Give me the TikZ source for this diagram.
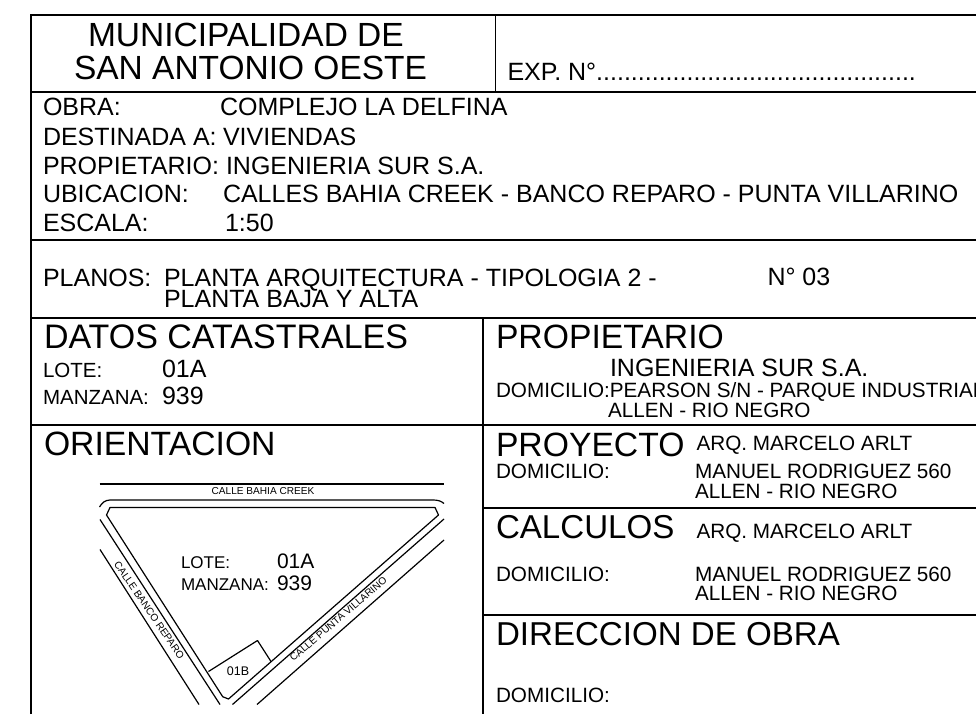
\documentclass[tikz,border=0pt]{standalone}
\usepackage{fontspec}
\setmainfont{Liberation Sans}
\newcommand{\fs}[1]{\fontsize{#1}{#1}\selectfont}
\tikzset{
  frameline/.style={line width=1.4pt,black},
  road/.style={line width=1.2pt,black,line join=round},
  lbl/.style={anchor=base west,inner sep=0pt,outer sep=0pt,black},
  big/.style={lbl,font=\fs{33.5}},
  head/.style={lbl,font=\fs{33.7}},
  headb/.style={lbl,font=\fs{33.1}},
  mid/.style={lbl,font=\fs{25}},
  num/.style={lbl,font=\fs{25}},
  sm/.style={lbl,font=\fs{20.7}},
  xs/.style={lbl,font=\fs{20.5}},
  xt/.style={lbl,font=\fs{17}},
  tiny/.style={anchor=center,inner sep=0pt,outer sep=0pt,black,font=\fs{10.1}}
}
\begin{document}
\begin{tikzpicture}[x=1pt,y=-1pt]
\useasboundingbox (0,0) rectangle (976,714);
% frame
\coordinate (tl) at (31,15); \coordinate (tr) at (976,15); \coordinate (bl) at (31,714);
\coordinate (a1) at (31,92);  \coordinate (a2) at (976,92);
\coordinate (b1) at (31,240); \coordinate (b2) at (976,240);
\coordinate (c1) at (31,318); \coordinate (c2) at (976,318);
\coordinate (d1) at (31,425); \coordinate (d2) at (976,425);
\coordinate (v1) at (495.5,15); \coordinate (v2) at (495.5,92);
\coordinate (w1) at (483,318); \coordinate (w2) at (483,714);
\coordinate (e1) at (483,508); \coordinate (e2) at (976,508);
\coordinate (f1) at (483,615); \coordinate (f2) at (976,615);
\draw[frameline] (bl) -- (tl) -- (tr);
\draw[frameline] (a1) -- (a2);
\draw[frameline] (b1) -- (b2);
\draw[frameline] (c1) -- (c2);
\draw[frameline] (d1) -- (d2);
\draw[frameline] (v1) -- (v2);
\draw[frameline] (w1) -- (w2);
\draw[frameline] (e1) -- (e2);
\draw[frameline] (f1) -- (f2);
% header
\node[big] (t1) at (88,46.7) {MUNICIPALIDAD DE};
\node[big] (t2) at (74,79.5) {SAN ANTONIO OESTE};
\node[mid] (exp) at (507.5,80.5) {EXP. N°..............................................};
% obra
\node[mid] (o1) at (43,116) {OBRA:};
\node[mid] (o2) at (220,116) {COMPLEJO LA DELFINA};
\node[mid] (o3) at (43,146) {DESTINADA A:};
\node[mid] (o4) at (223,146) {VIVIENDAS};
\node[mid] (o5) at (43,175) {PROPIETARIO:};
\node[mid] (o6) at (226,175) {INGENIERIA SUR S.A.};
\node[mid] (o7) at (43,202) {UBICACION:};
\node[mid] (o8) at (223,202) {CALLES BAHIA CREEK - BANCO REPARO - PUNTA VILLARINO};
\node[mid] (o9) at (43,231) {ESCALA:};
\node[mid] (o10) at (225,231) {1:50};
% planos
\node[mid] (p1) at (43,286) {PLANOS:};
\node[mid] (p2) at (164,286) {PLANTA ARQUITECTURA - TIPOLOGIA 2 -};
\node[mid] (p3) at (164,307) {PLANTA BAJA Y ALTA};
\node[mid] (p4) at (767.5,285.7) {N° 03};
% datos
\node[lbl,font=\fs{34}] (d0) at (44,348.5) {DATOS CATASTRALES};
\node[xs] (d3) at (43,377) {LOTE:};
\node[num] (d4) at (162,377) {01A};
\node[xs] (d5) at (43,404) {MANZANA:};
\node[num] (d6) at (162,404) {939};
% propietario
\node[head] (q0) at (496,348) {PROPIETARIO};
\node[mid] (q1) at (610,376) {INGENIERIA SUR S.A.};
\node[sm] (q2) at (496,397.5) {DOMICILIO:PEARSON S/N - PARQUE INDUSTRIAL};
\node[sm] (q3) at (608,417.5) {ALLEN - RIO NEGRO};
% proyecto
\node[head] (r0) at (496,456) {PROYECTO};
\node[sm] (r1) at (696.5,450) {ARQ. MARCELO ARLT};
\node[sm] (r2) at (496,478) {DOMICILIO:};
\node[sm] (r3) at (695,478) {MANUEL RODRIGUEZ 560};
\node[sm] (r4) at (695,498.5) {ALLEN - RIO NEGRO};
% calculos
\node[headb] (s0) at (496,538.5) {CALCULOS};
\node[sm] (s1) at (696.5,538) {ARQ. MARCELO ARLT};
\node[sm] (s2) at (496,581) {DOMICILIO:};
\node[sm] (s3) at (695,581) {MANUEL RODRIGUEZ 560};
\node[sm] (s4) at (695,600) {ALLEN - RIO NEGRO};
% direccion
\node[headb] (u0) at (496,645.7) {DIRECCION DE OBRA};
\node[sm] (u1) at (496,702.3) {DOMICILIO:};
% orientacion
\node[head] (n0) at (44,455.5) {ORIENTACION};
% streets
\coordinate (k1) at (99.5,484); \coordinate (k2) at (444,484);
\coordinate (m1) at (99.5,507); \coordinate (m2) at (110,500); \coordinate (m3) at (433,500); \coordinate (m4) at (444,503.5);
\coordinate (l1) at (110,507.5); \coordinate (l2) at (435,507.5); \coordinate (l3) at (438.5,515);
\coordinate (l4) at (228.5,699); \coordinate (l5) at (222.7,696.7); \coordinate (l6) at (106.5,515);
\draw[road] (k1) -- (k2);
\draw[road] (m1) .. controls (102,503) and (105,500) .. (m2) -- (m3) .. controls (438,500) and (441,501) .. (m4);
\draw[road] (l1) -- (l2) -- (l3) -- (l4) -- (l5) -- (l6) -- cycle;
\draw[road] (100,519.5) -- (220,704.5);
\draw[road] (100,549.5) -- (199,704.5);
\draw[road] (444,519) -- (232.5,704.5);
\draw[road] (444,540) -- (257,704.5);
\coordinate (g1) at (208.5,671.5); \coordinate (g2) at (257.5,640.5); \coordinate (g3) at (271,661.5);
\draw[road] (g1) -- (g2) -- (g3);
\node[tiny] (c1n) at (263,491.5) {CALLE BAHIA CREEK};
\node[tiny,rotate=-55.5] (c2n) at (149.3,610.3) {CALLE BANCO REPARO};
\node[tiny,rotate=40.5] (c3n) at (338.3,619) {CALLE PUNTA VILLARINO};
\node[tiny,font=\fs{12.5}] (c4n) at (238,671) {01B};
\node[xt] (x1) at (181,568) {LOTE:};
\node[lbl,font=\fs{21}] (x2) at (277,568) {01A};
\node[xt] (x3) at (181,590) {MANZANA:};
\node[lbl,font=\fs{21}] (x4) at (277,590) {939};
\end{tikzpicture}
\end{document}
